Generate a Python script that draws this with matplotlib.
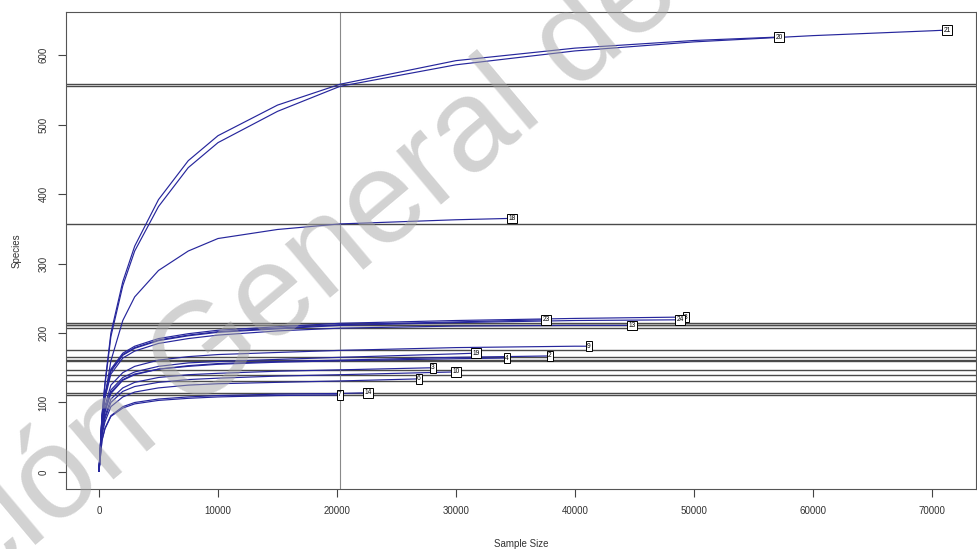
import matplotlib
matplotlib.use("Agg")
import matplotlib.pyplot as plt

plt.rcParams["font.family"] = ["Liberation Sans", "DejaVu Sans"]

# Sequencing depths at which each sample was rarefied
depth_grid = [1, 250, 500, 1000, 2000, 3000, 5000, 7500, 10000, 15000,
              20250, 30000, 40000, 50000, 60000, 70000]

# Sample labels, total reads and total observed species
sample_ids = ["21", "20", "18", "23", "8", "24", "13", "9", "19", "4",
              "2", "3", "10", "6", "7", "14"]
sample_sizes = [71260, 57140, 34700, 37560, 49330, 48820, 44790, 41180,
                31680, 34290, 37900, 28070, 30000, 26890, 20250, 22600]
total_species = [636, 626, 365, 219, 223, 219, 211, 181, 171, 164, 167,
                 150, 144, 134, 111, 114]

# Rarefied richness on depth_grid (up to each sample's size)
rich_21 = [1, 80, 125, 195, 268, 318, 382, 438, 474, 519, 555, 586, 606, 619, 628, 635]
rich_20 = [1, 82, 128, 200, 274, 325, 392, 448, 484, 528, 558, 592, 610, 621]
rich_18 = [1, 72, 108, 160, 218, 252, 290, 318, 336, 349, 357, 363]
rich_23 = [1, 78, 110, 146, 169, 179, 190, 197, 202, 207, 212, 216]
rich_8 = [1, 80, 112, 148, 171, 181, 192, 199, 204, 209, 214, 218, 221]
rich_24 = [1, 77, 109, 145, 168, 178, 189, 196, 201, 206, 211, 215, 218]
rich_13 = [1, 75, 106, 141, 164, 174, 185, 192, 197, 203, 207, 210, 211]
rich_9 = [1, 68, 95, 125, 143, 152, 161, 166, 169, 172, 175, 179, 181]
rich_19 = [1, 64, 90, 118, 136, 144, 152, 157, 159, 162, 165, 170]
rich_4 = [1, 64, 88, 115, 133, 141, 148, 152, 155, 158, 160, 163]
rich_2 = [1, 62, 86, 113, 132, 140, 148, 153, 156, 159, 161, 165]
rich_3 = [1, 58, 80, 105, 121, 129, 136, 140, 142, 145, 147]
rich_10 = [1, 56, 77, 100, 116, 123, 129, 133, 135, 138, 140]
rich_6 = [1, 53, 72, 94, 108, 115, 121, 125, 127, 129, 131]
rich_7 = [1, 45, 62, 80, 92, 98, 103, 106, 108, 110]
rich_14 = [1, 46, 63, 81, 94, 100, 105, 108, 110, 112, 113]

curves = [rich_21, rich_20, rich_18, rich_23, rich_8, rich_24, rich_13,
          rich_9, rich_19, rich_4, rich_2, rich_3, rich_10, rich_6,
          rich_7, rich_14]

# Richness of each sample at the smallest library size
min_depth = 20250
rich_at_min = [555, 558, 357, 212, 214, 211, 207, 175, 165, 160, 161,
               147, 140, 131, 111, 113]

fig = plt.figure(figsize=(9.78, 5.49), dpi=100)
W, H = 978, 549
ax = fig.add_axes([66 / W, (H - 489) / H, 910 / W, (489 - 12) / H])

curve_color = "#26269c"
for sid, n_tot, s_tot, rich in zip(sample_ids, sample_sizes, total_species, curves):
    xs = depth_grid[:len(rich)] + [n_tot]
    ys = rich + [s_tot]
    ax.plot(xs, ys, color=curve_color, lw=0.85, zorder=3)
    ax.text(n_tot, s_tot, sid, fontsize=4.8, ha="center", va="center", zorder=5,
            bbox=dict(boxstyle="square,pad=0.2", fc="white", ec="black", lw=0.7))

for r in rich_at_min:
    ax.axhline(r, color="#4a4a4a", lw=1.0, zorder=2)
ax.axvline(min_depth, color="#8a8a8a", lw=0.8, zorder=2)

ax.set_xlim(-2773, 73700)
ax.set_ylim(-24.5, 662)
ax.set_xticks(range(0, 70001, 10000))
ax.set_yticks(range(0, 601, 100))
ax.tick_params(axis="both", labelsize=7, length=5.5, width=0.8, pad=7,
               color="#444444", labelcolor="#333333")
for lbl in ax.get_yticklabels():
    lbl.set_rotation(90)
    lbl.set_va("center")
for sp in ax.spines.values():
    sp.set_color("#555555")
    sp.set_linewidth(0.8)

ax.set_xlabel("Sample Size", fontsize=7, color="#333333", labelpad=16)
ax.set_ylabel("Species", fontsize=7, color="#333333", labelpad=12)

# Library watermark across the figure
fig.text(310 / W, 1 - 270 / H, "ción General de", fontsize=94, color="#a6a6a6",
         alpha=0.5, rotation=40, ha="center", va="center", zorder=10)

fig.savefig("out.png", dpi=100)
